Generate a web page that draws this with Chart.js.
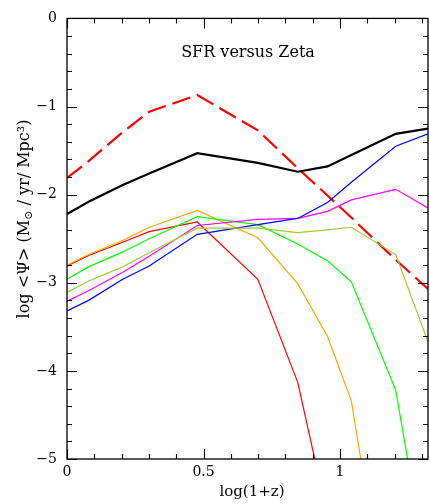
<!DOCTYPE html>
<html>
<head>
<meta charset="utf-8">
<script src="https://cdn.jsdelivr.net/npm/chart.js@4.4.1/dist/chart.umd.min.js"></script>
<style>
  html, body { margin: 0; padding: 0; background: #fff; }
  #wrap { width: 430px; height: 504px; position: relative; }
</style>
</head>
<body>
<div id="wrap"><canvas id="c"></canvas></div>
<script>
// log(1+z) sampling for z = 0, 0.2, 0.6, 1, 2, 4, 6, 8, 10, 15, 20
const logOnePlusZ = [0, 0.0792, 0.2041, 0.3010, 0.4771, 0.6990, 0.8451, 0.9542, 1.0414, 1.2041, 1.3222];

// log <Psi> per model
const totalSFR  = [-2.22, -2.08, -1.89, -1.76, -1.53, -1.64, -1.74, -1.68, -1.55, -1.31, -1.25];
const madauSFR  = [-1.81, -1.62, -1.29, -1.06, -0.87, -1.27, -1.70, -2.01, -2.26, -2.74, -3.07];
const zetaRed   = [-2.81, -2.69, -2.54, -2.42, -2.31, -2.96, -4.13, -5.65, null, null, null];
const zetaOrange= [-2.80, -2.68, -2.52, -2.37, -2.18, -2.49, -3.01, -3.61, -4.34, -7.45, null];
const zetaGreen = [-2.96, -2.82, -2.65, -2.50, -2.25, -2.34, -2.56, -2.75, -2.99, -4.22, -6.35];
const zetaOlive = [-3.11, -2.98, -2.82, -2.66, -2.38, -2.38, -2.43, -2.40, -2.37, -2.68, -3.67];
const zetaMagenta=[-3.21, -3.09, -2.88, -2.70, -2.35, -2.28, -2.27, -2.19, -2.06, -1.94, -2.15];
const zetaBlue  = [-3.32, -3.20, -2.96, -2.81, -2.45, -2.34, -2.27, -2.09, -1.86, -1.45, -1.31];

const xTickLabels = { 0: '0', 0.5: '0.5', 1: '1' };
const yTickLabels = { 0: '0', '-1': '\u22121', '-2': '\u22122', '-3': '\u22123', '-4': '\u22124', '-5': '\u22125' };

const SERIF = '"DejaVu Serif", "Liberation Serif", serif';

function pts(values) {
  return values.map((v, i) => ({ x: logOnePlusZ[i], y: v }));
}
function series(values, color, width, dash) {
  return {
    data: pts(values),
    borderColor: color,
    borderWidth: width,
    borderDash: dash || [],
    pointRadius: 0,
    tension: 0,
    fill: false,
    spanGaps: false
  };
}

const isMajor = (v, step) => Math.abs(v / step - Math.round(v / step)) < 1e-6;

// Frame, inward ticks on all four sides, and free text
const framePlugin = {
  id: 'framePlugin',
  afterDatasetsDraw(chart) {
    const { ctx, chartArea: a, scales } = chart;
    const xs = scales.x, ys = scales.y;
    ctx.save();
    ctx.strokeStyle = '#000';
    ctx.lineWidth = 1.3;
    ctx.strokeRect(a.left, a.top, a.right - a.left, a.bottom - a.top);

    ctx.lineWidth = 1.1;
    ctx.beginPath();
    xs.ticks.forEach(t => {
      const p = Math.round(xs.getPixelForValue(t.value)) + 0.5;
      const len = isMajor(t.value, 0.5) ? 10 : 5;
      ctx.moveTo(p, a.bottom); ctx.lineTo(p, a.bottom - len);
      ctx.moveTo(p, a.top);    ctx.lineTo(p, a.top + len);
    });
    ys.ticks.forEach(t => {
      const p = Math.round(ys.getPixelForValue(t.value)) + 0.5;
      const len = isMajor(t.value, 1) ? 10 : 5;
      ctx.moveTo(a.left, p);  ctx.lineTo(a.left + len, p);
      ctx.moveTo(a.right, p); ctx.lineTo(a.right - len, p);
    });
    ctx.stroke();

    ctx.fillStyle = '#000';
    // panel label
    ctx.font = '16px ' + SERIF;
    ctx.textAlign = 'center';
    ctx.textBaseline = 'middle';
    ctx.fillText('SFR versus Zeta', 248, 53);

    // x axis title
    ctx.font = '15px ' + SERIF;
    ctx.fillText('log(1+z)', 252, 492);

    // y axis title (rotated, with subscript sun symbol)
    ctx.translate(25, 219);
    ctx.rotate(-Math.PI / 2);
    const big = '16px ' + SERIF, small = '11px ' + SERIF;
    const p1 = 'log <\u03A8> (M', p2 = '\u2299', p3 = ' / yr/ Mpc\u00B3)';
    ctx.font = big; const w1 = ctx.measureText(p1).width, w3 = ctx.measureText(p3).width;
    ctx.font = small; const w2 = ctx.measureText(p2).width;
    let xx = -(w1 + w2 + w3) / 2;
    ctx.textAlign = 'left';
    ctx.font = big; ctx.fillText(p1, xx, 0); xx += w1;
    ctx.font = small; ctx.fillText(p2, xx, 4); xx += w2;
    ctx.font = big; ctx.fillText(p3, xx, 0);
    ctx.restore();
  }
};

new Chart(document.getElementById('c'), {
  type: 'line',
  data: {
    datasets: [
      series(zetaOlive, '#9acd32', 1.2),
      series(zetaBlue, '#0000ff', 1.2),
      series(zetaMagenta, '#ff00ff', 1.2),
      series(zetaGreen, '#00ff00', 1.2),
      series(zetaOrange, '#ffa500', 1.2),
      series(zetaRed, '#ff0000', 1.2),
      series(totalSFR, '#000000', 2.2),
      series(madauSFR, '#ff0000', 2.2, [19, 7])
    ]
  },
  options: {
    responsive: true,
    maintainAspectRatio: false,
    animation: false,
    layout: { padding: { left: 0, right: 2, top: 13, bottom: 0 } },
    plugins: { legend: { display: false }, tooltip: { enabled: false }, title: { display: false } },
    scales: {
      x: {
        type: 'linear',
        min: 0, max: 1.3222,
        grid: { display: false, drawTicks: false },
        border: { display: false },
        ticks: {
          stepSize: 0.1,
          includeBounds: false,
          autoSkip: false,
          maxRotation: 0,
          padding: 5,
          color: '#000',
          font: { family: SERIF, size: 14 },
          callback: v => {
            const k = Math.round(v * 10) / 10;
            return isMajor(v, 0.5) ? xTickLabels[k] : '';
          }
        },
        afterFit: s => { s.height = 45; }
      },
      y: {
        type: 'linear',
        min: -5, max: 0,
        grid: { display: false, drawTicks: false },
        border: { display: false },
        ticks: {
          stepSize: 0.2,
          autoSkip: false,
          padding: 10,
          color: '#000',
          font: { family: SERIF, size: 14 },
          callback: v => {
            const k = Math.round(v);
            return isMajor(v, 1) ? yTickLabels[String(k)] : '';
          }
        },
        afterFit: s => { s.width = 67; }
      }
    }
  },
  plugins: [framePlugin]
});
</script>
</body>
</html>
